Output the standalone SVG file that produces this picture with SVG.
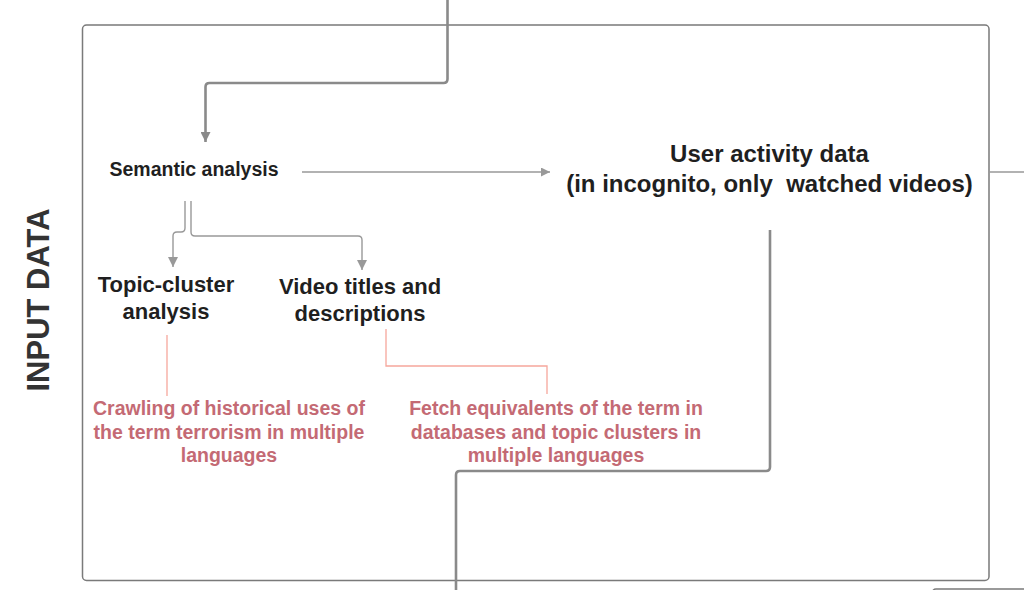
<svg xmlns="http://www.w3.org/2000/svg" width="1024" height="590" viewBox="0 0 1024 590">
<defs>
<style>
.t{font-family:"Liberation Sans",Arial,sans-serif;font-weight:bold;fill:#1f1f1f;text-anchor:middle}
.r{font-family:"Liberation Sans",Arial,sans-serif;font-weight:bold;fill:#c46a74;text-anchor:middle;font-size:19.5px}
.box{fill:none;stroke:#7a7a7a;stroke-width:1.5}
.thick{fill:none;stroke:#8a8a8a;stroke-width:2.6;stroke-linejoin:round}
.thin{fill:none;stroke:#999;stroke-width:1.4;stroke-linejoin:round}
.red{fill:none;stroke:#f6a79c;stroke-width:1.3}
</style>
<marker id="ah" viewBox="0 0 10 10" refX="10" refY="5" markerWidth="11" markerHeight="10" markerUnits="userSpaceOnUse" orient="auto"><path d="M0,0 L10,5 L0,10 z" fill="#8a8a8a"/></marker>
<marker id="ahs" viewBox="0 0 10 10" refX="10" refY="5" markerWidth="12" markerHeight="9" markerUnits="userSpaceOnUse" orient="auto"><path d="M0,0 L10,5 L0,10 z" fill="#999"/></marker>
<marker id="ahm" viewBox="0 0 10 10" refX="10" refY="5" markerWidth="11" markerHeight="10" markerUnits="userSpaceOnUse" orient="auto"><path d="M0,0 L10,5 L0,10 z" fill="#999"/></marker>
</defs>
<rect width="1024" height="590" fill="#fff"/>
<g id="input-data-frame">
<rect class="box" x="82.5" y="25" width="906.5" height="555.5" rx="4"/>
<text x="49" y="300" transform="rotate(-90 49 300)" font-family="'Liberation Sans',Arial,sans-serif" font-size="31" font-weight="bold" fill="#333" text-anchor="middle">INPUT DATA</text>
</g>
<g id="next-frame">
<rect class="box" x="932" y="589" width="200" height="60" rx="4"/>
</g>
<g id="connectors">
<path class="thick" d="M447.5,0 V79 Q447.5,83 443.5,83 H209.5 Q205.5,83 205.5,87 V142" marker-end="url(#ah)"/>
<path class="thin" d="M302,172 H550" marker-end="url(#ahs)"/>
<path class="thin" d="M989,172 H1024"/>
<path class="thin" d="M185,201 V228 Q185,232 181,232 H177 Q173,232 173,236 V267" marker-end="url(#ahm)"/>
<path class="thin" d="M191,201 V232 Q191,236 195,236 H358 Q362,236 362,240 V270" marker-end="url(#ahm)"/>
<path class="red" d="M167,335 V396"/>
<path class="red" d="M386,329 V366 H547 V394"/>
<path class="thick" d="M770,230 V467 Q770,471 766,471 H460 Q456,471 456,475 V590"/>
</g>
<g id="semantic-analysis">
<text class="t" x="194" y="176" font-size="19.5">Semantic analysis</text>
</g>
<g id="user-activity-data">
<text class="t" x="769.5" y="162" font-size="24">User activity data</text>
<text class="t" x="769.5" y="192" font-size="24" xml:space="preserve">(in incognito, only  watched videos)</text>
</g>
<g id="topic-cluster-analysis">
<text class="t" x="166" y="292" font-size="22">Topic-cluster</text>
<text class="t" x="166" y="319" font-size="22">analysis</text>
</g>
<g id="video-titles">
<text class="t" x="360" y="294" font-size="22">Video titles and</text>
<text class="t" x="360" y="321" font-size="22">descriptions</text>
</g>
<g id="crawling">
<text class="r" x="229" y="415">Crawling of historical uses of</text>
<text class="r" x="229" y="438.5">the term terrorism in multiple</text>
<text class="r" x="229" y="462">languages</text>
</g>
<g id="fetch">
<text class="r" x="556" y="415">Fetch equivalents of the term in</text>
<text class="r" x="556" y="438.5">databases and topic clusters in</text>
<text class="r" x="556" y="462">multiple languages</text>
</g>
</svg>
